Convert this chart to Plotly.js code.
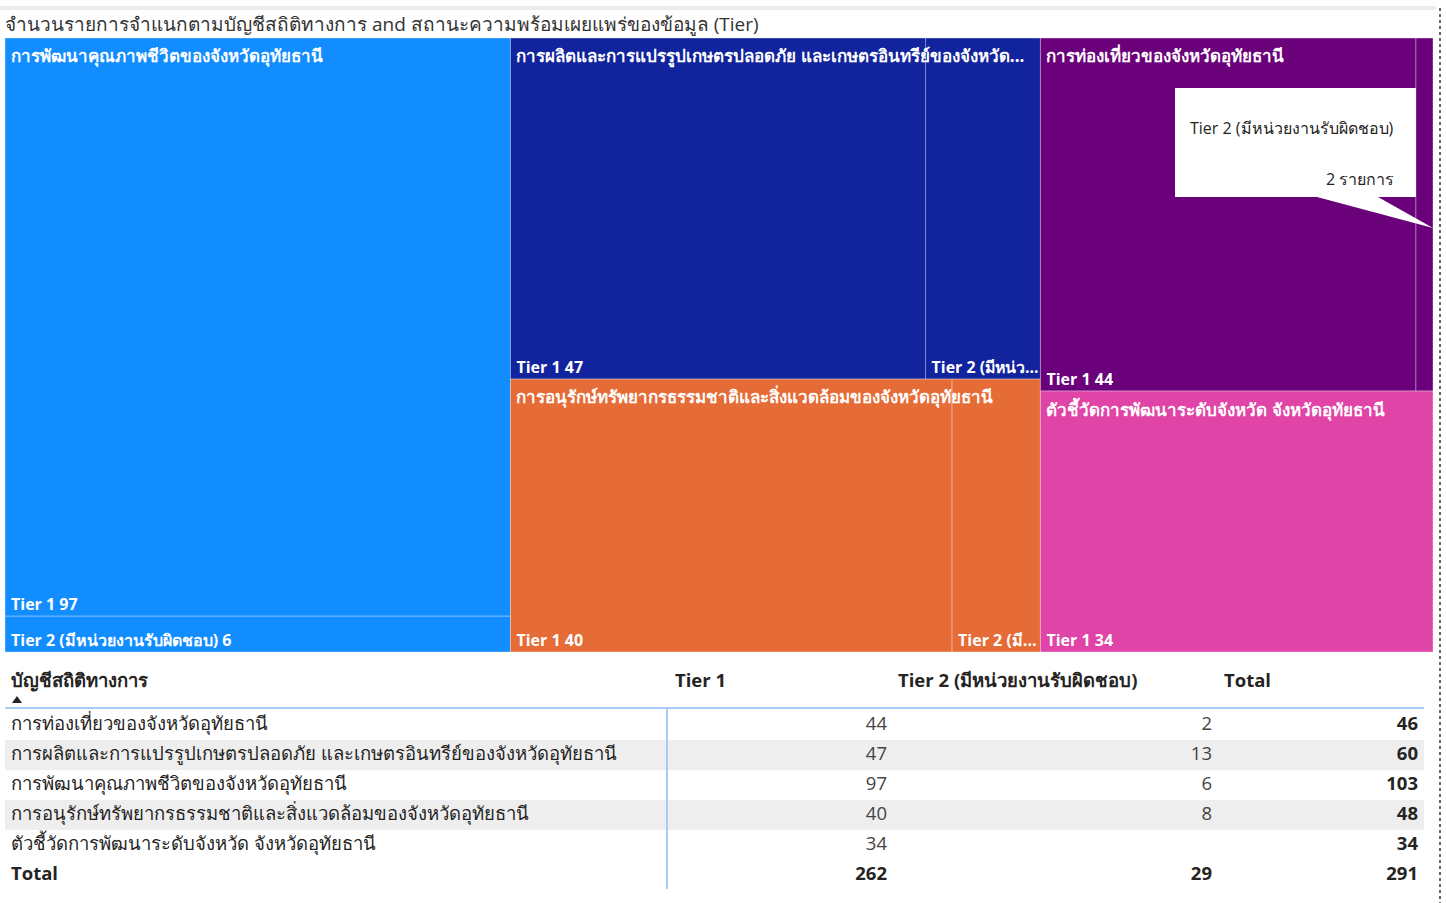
<!DOCTYPE html>
<html><head><meta charset="utf-8">
<script src="https://cdn.plot.ly/plotly-3.0.1.min.js"></script>
<style>body{margin:0;background:#fff;overflow:hidden}#chart{width:1446px;height:903px}</style>
</head><body><div id="chart"></div>
<script>
// ---- data ----
const chartTitle = "จำนวนรายการจำแนกตามบัญชีสถิติทางการ and สถานะความพร้อมเผยแพร่ของข้อมูล (Tier)";
const categories = [
  "การท่องเที่ยวของจังหวัดอุทัยธานี",
  "การผลิตและการแปรรูปเกษตรปลอดภัย และเกษตรอินทรีย์ของจังหวัดอุทัยธานี",
  "การพัฒนาคุณภาพชีวิตของจังหวัดอุทัยธานี",
  "การอนุรักษ์ทรัพยากรธรรมชาติและสิ่งแวดล้อมของจังหวัดอุทัยธานี",
  "ตัวชี้วัดการพัฒนาระดับจังหวัด จังหวัดอุทัยธานี"
];
const tiers = ["Tier 1", "Tier 2 (มีหน่วยงานรับผิดชอบ)"];
const tier1Values = [44, 47, 97, 40, 34];
const tier2Values = [2, 13, 6, 8, null];
// captions as shown (truncated) in the treemap; null = full text
const categoryCaptions = [
  null,
  "การผลิตและการแปรรูปเกษตรปลอดภัย และเกษตรอินทรีย์ของจังหวัด...",
  null, null, null
];
const tier2Captions = ["", "Tier 2 (มีหน่ว...", null, "Tier 2 (มี...", null];
const tableHeader = "บัญชีสถิติทางการ";
const totalLabel = "Total";
const unitLabel = "รายการ";
const tooltipCategory = 0; // tooltip shown for Tier 2 of this category

// ---- styles ----
const categoryColors = ["#6B007B", "#12239E", "#118DFF", "#E66C37", "#E044A7"];
const W = 1446, H = 903;
const px = x => x / W, py = y => 1 - y / H;
const FONT = "'Segoe UI', 'Open Sans', 'Noto Sans', sans-serif";

// ---- treemap (hierarchy) ----
const ids = [], labels = [], parents = [], values = [], colors = [], tts = [];
categories.forEach((c, i) => {
  const t1 = tier1Values[i], t2 = tier2Values[i] || 0;
  ids.push("c" + i); labels.push(c); parents.push(""); values.push(t1 + t2);
  colors.push(categoryColors[i]); tts.push("");
  ids.push("c" + i + "t1"); labels.push(tiers[0]); parents.push("c" + i); values.push(t1);
  colors.push(categoryColors[i]); tts.push("%{label} %{value}");
  if (tier2Values[i] != null) {
    ids.push("c" + i + "t2"); labels.push(tiers[1]); parents.push("c" + i); values.push(tier2Values[i]);
    colors.push(categoryColors[i]);
    tts.push(tier2Captions[i] != null ? tier2Captions[i] : "%{label} %{value}");
  }
});
const nopad = {t: 0, l: 0, r: 0, b: 0};
const tiling = {packing: "squarify", squarifyratio: 1.618, pad: 0};
const treemap = {
  type: "treemap", ids, labels, parents, values, branchvalues: "total", sort: true, tiling,
  marker: {colors, depthfade: false, pad: nopad, line: {color: "rgba(255,255,255,0.35)", width: 1}},
  pathbar: {visible: false},
  texttemplate: ids.map(() => ""),
  domain: {x: [px(5), px(1433)], y: [py(652), py(38)]},
  hoverinfo: "label+value"
};
// leaf captions layer (same layout, transparent boxes, slightly offset text)
const leafText = {
  type: "treemap", ids, labels, parents, values, branchvalues: "total", sort: true, tiling,
  marker: {colors: ids.map(() => "rgba(0,0,0,0)"), depthfade: false, pad: nopad, line: {width: 0}},
  pathbar: {visible: false},
  texttemplate: tts, textposition: "bottom left",
  textfont: {family: FONT, size: 16, color: "#ffffff", weight: 700},
  domain: {x: [px(8), px(1436)], y: [py(654), py(40)]},
  hoverinfo: "skip"
};
// category captions layer
const catTotals = categories.map((c, i) => tier1Values[i] + (tier2Values[i] || 0));
const captions = {
  type: "treemap", labels: categories, parents: categories.map(() => ""), values: catTotals,
  sort: true, tiling,
  marker: {colors: categories.map(() => "rgba(0,0,0,0)"), depthfade: false, pad: nopad, line: {width: 0}},
  pathbar: {visible: false},
  texttemplate: categories.map((c, i) => categoryCaptions[i] != null ? categoryCaptions[i] : "%{label}"),
  textposition: "top left",
  textfont: {family: FONT, size: 17, color: "#ffffff", weight: 700},
  domain: {x: [px(8), px(1436)], y: [py(655), py(41)]},
  hoverinfo: "skip"
};

// ---- table (text drawn on hidden axes: x in px, y in row index) ----
const t1Sum = tier1Values.reduce((a, v) => a + (v || 0), 0);
const t2Sum = tier2Values.reduce((a, v) => a + (v || 0), 0);
const b = s => "<b>" + s + "</b>";
const nRows = categories.length + 1;
const rowIdx = Array.from({length: nRows}, (_, i) => i);
const ROW0 = 725, PITCH = 30, TOP = 660;
const ry = y => (y - ROW0) / PITCH;   // pixel -> row units
const TFS = 18.5;
const textTrace = (x, txt, pos, color, y) => ({
  type: "scatter", mode: "text", xaxis: "x", yaxis: "y",
  x: (y || rowIdx).map(() => x), y: y || rowIdx, text: txt,
  textposition: pos, cliponaxis: false, hoverinfo: "skip",
  textfont: {family: FONT, size: TFS, color}
});
const col0 = textTrace(11, categories.concat([b(totalLabel)]), "middle right", "#252423");
const col1 = textTrace(887, tier1Values.map(v => v == null ? "" : String(v)).concat([b(t1Sum)]), "middle left",
  tier1Values.map(() => "#444444").concat(["#252423"]));
const col2 = textTrace(1212, tier2Values.map(v => v == null ? "" : String(v)).concat([b(t2Sum)]), "middle left",
  tier2Values.map(() => "#444444").concat(["#252423"]));
const col3 = textTrace(1418, catTotals.map(v => b(v)).concat([b(t1Sum + t2Sum)]), "middle left", "#252423");
const hdrY = [ry(682)];
const hdr = [
  textTrace(11, [b(tableHeader)], "middle right", "#252423", hdrY),
  textTrace(675, [b(tiers[0])], "middle right", "#252423", hdrY),
  textTrace(898, [b(tiers[1])], "middle right", "#252423", hdrY),
  textTrace(1224, [b(totalLabel)], "middle right", "#252423", hdrY)
];

// ---- decorations ----
const blue = "#A6CEF5";
const shapes = [];
categories.forEach((c, i) => {
  if (i % 2) shapes.push({type: "rect", xref: "x", yref: "y", x0: 5, x1: 1424, y0: i - 0.5, y1: i + 0.5,
    fillcolor: "#EEEEEE", line: {width: 0}, layer: "below"});
});
shapes.push(
  {type: "line", xref: "paper", yref: "paper", x0: px(0), x1: px(1436), y0: py(8), y1: py(8), line: {color: "#EBEBEB", width: 4}},
  {type: "line", xref: "paper", yref: "paper", x0: px(1440), x1: px(1440), y0: py(8), y1: py(903), line: {color: "#666666", width: 2, dash: "dot"}},
  {type: "line", xref: "paper", yref: "paper", x0: px(5), x1: px(1424), y0: py(708), y1: py(708), line: {color: blue, width: 2}},
  {type: "line", xref: "paper", yref: "paper", x0: px(667), x1: px(667), y0: py(708), y1: py(889), line: {color: blue, width: 2}},
  // sort indicator
  {type: "path", xref: "paper", yref: "paper",
   path: `M ${px(12)} ${py(703)} L ${px(22)} ${py(703)} L ${px(17)} ${py(696)} Z`,
   fillcolor: "#252423", line: {width: 0}},
  // tooltip callout
  {type: "rect", xref: "paper", yref: "paper", x0: px(1175), x1: px(1416), y0: py(88), y1: py(197), fillcolor: "#FFFFFF", line: {width: 0}},
  {type: "path", xref: "paper", yref: "paper",
   path: `M ${px(1317)} ${py(197)} L ${px(1378)} ${py(197)} L ${px(1433)} ${py(228)} Z`,
   fillcolor: "#FFFFFF", line: {width: 0}}
);
const annotations = [
  {xref: "paper", yref: "paper", x: px(1396), y: py(128), xanchor: "right", yanchor: "middle", showarrow: false,
   text: tiers[1], font: {family: FONT, size: 16, color: "#252423"}},
  {xref: "paper", yref: "paper", x: px(1396), y: py(179), xanchor: "right", yanchor: "middle", showarrow: false,
   text: tier2Values[tooltipCategory] + " " + unitLabel, font: {family: FONT, size: 16, color: "#252423"}}
];

const layout = {
  width: W, height: H,
  margin: {l: 0, r: 0, t: 0, b: 0},
  paper_bgcolor: "#FFFFFF", plot_bgcolor: "rgba(0,0,0,0)",
  title: {text: chartTitle, x: px(5), xanchor: "left", xref: "paper", y: py(24), yanchor: "middle", yref: "paper",
          font: {family: FONT, size: 19, color: "#333333"}},
  xaxis: {domain: [0, 1], range: [0, W], visible: false, fixedrange: true},
  yaxis: {domain: [0, py(TOP)], range: [ry(H), ry(TOP)], visible: false, fixedrange: true},
  shapes, annotations, showlegend: false
};
Plotly.newPlot("chart", [treemap, leafText, captions, col0, col1, col2, col3, ...hdr], layout, {displayModeBar: false});
</script></body></html>
